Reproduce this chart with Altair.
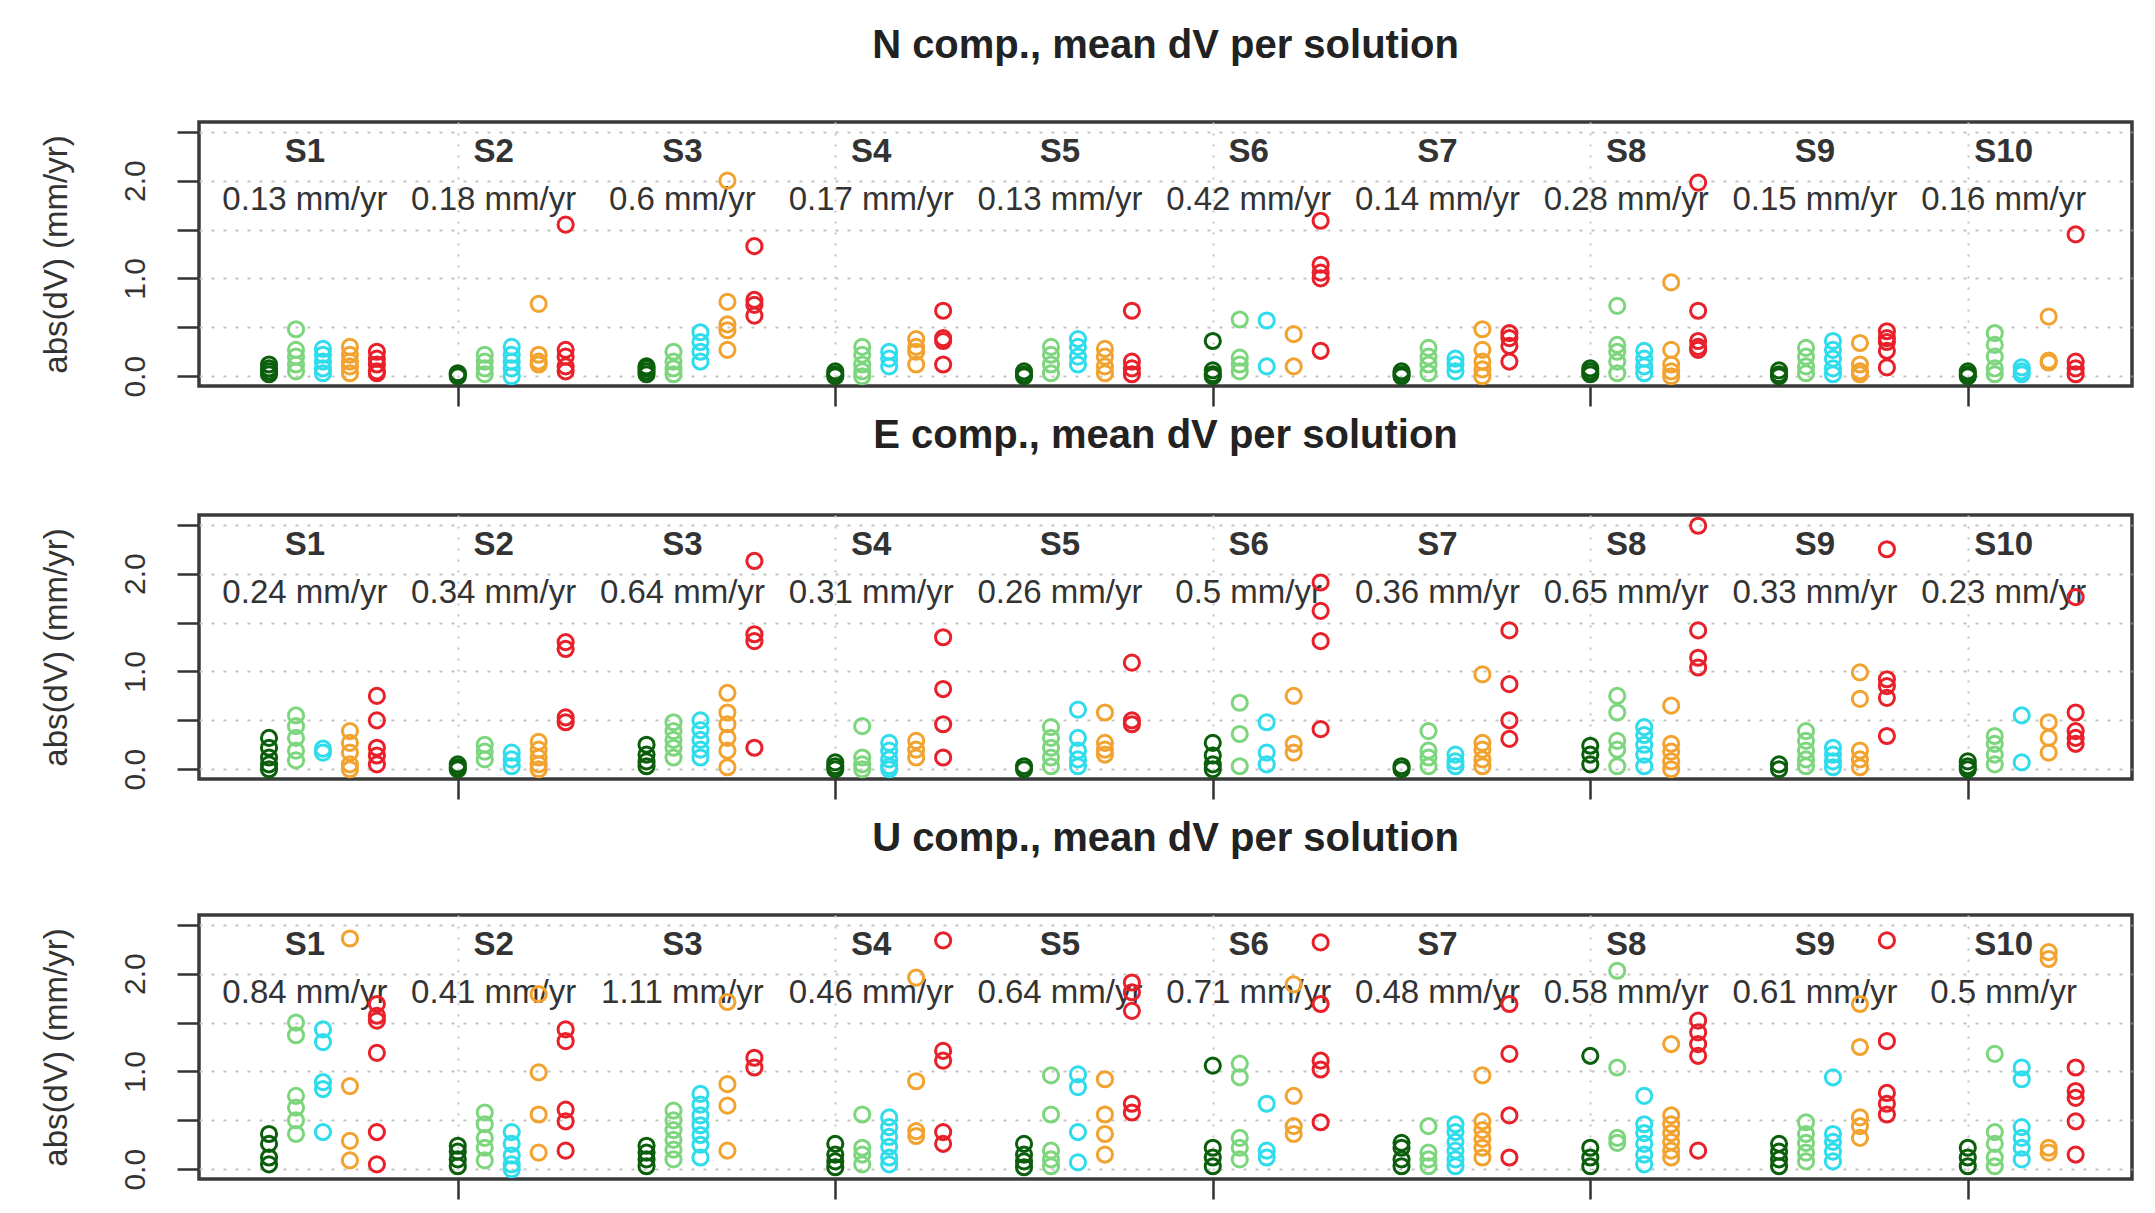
import altair as alt
import pandas as pd

solutions = ["S1", "S2", "S3", "S4", "S5", "S6", "S7", "S8", "S9", "S10"]
series = ["darkgreen", "lightgreen", "cyan", "orange", "red"]
series_colors = ["#0b5e0b", "#7dd67d", "#2fdcec", "#f2a22e", "#e8202a"]

# ---- N component: abs(dV) per solution, per series ----
N_darkgreen = [[0.02, 0.05, 0.08, 0.12], [0.0, 0.02, 0.03], [0.02, 0.05, 0.08, 0.1], [0.0, 0.02, 0.05], [0.0, 0.02, 0.05],
               [0.36, 0.06, 0.02, 0.0], [0.0, 0.02, 0.05], [0.02, 0.05, 0.08], [0.0, 0.02, 0.06], [0.0, 0.02, 0.05]]
N_lightgreen = [[0.48, 0.27, 0.2, 0.12, 0.05], [0.22, 0.15, 0.08, 0.02], [0.25, 0.15, 0.08, 0.02], [0.3, 0.22, 0.12, 0.05, 0.0],
                [0.3, 0.22, 0.12, 0.03], [0.58, 0.19, 0.12, 0.05], [0.29, 0.2, 0.12, 0.03], [0.72, 0.32, 0.25, 0.15, 0.03],
                [0.29, 0.2, 0.1, 0.03], [0.44, 0.32, 0.2, 0.08, 0.02]]
N_cyan = [[0.28, 0.22, 0.15, 0.08, 0.03], [0.3, 0.22, 0.15, 0.08, 0.0], [0.45, 0.35, 0.25, 0.15], [0.25, 0.18, 0.1],
          [0.38, 0.3, 0.2, 0.12], [0.57, 0.1], [0.18, 0.12, 0.05], [0.26, 0.18, 0.1, 0.03], [0.36, 0.27, 0.18, 0.08, 0.02],
          [0.09, 0.05, 0.02]]
N_orange = [[0.3, 0.22, 0.15, 0.1, 0.03], [0.74, 0.22, 0.15, 0.12], [2.0, 0.76, 0.53, 0.47, 0.27], [0.38, 0.3, 0.25, 0.12],
            [0.28, 0.2, 0.1, 0.03], [0.43, 0.1], [0.48, 0.27, 0.15, 0.07, 0.0], [0.96, 0.27, 0.12, 0.05, 0.0],
            [0.34, 0.12, 0.05, 0.02], [0.61, 0.16, 0.14]]
N_red = [[0.25, 0.18, 0.12, 0.05, 0.03], [1.55, 0.27, 0.2, 0.1, 0.05], [1.33, 0.78, 0.73, 0.62], [0.67, 0.39, 0.36, 0.12],
         [0.67, 0.15, 0.08, 0.02], [1.59, 1.14, 1.06, 1.0, 0.26], [0.44, 0.39, 0.31, 0.15], [1.98, 0.67, 0.36, 0.3, 0.27],
         [0.46, 0.39, 0.35, 0.26, 0.09], [1.45, 0.15, 0.08, 0.02]]
N_means = ["0.13", "0.18", "0.6", "0.17", "0.13", "0.42", "0.14", "0.28", "0.15", "0.16"]

# ---- E component ----
E_darkgreen = [[0.32, 0.22, 0.12, 0.05, 0.0], [0.05, 0.02, 0.0], [0.25, 0.15, 0.08, 0.03], [0.07, 0.03, 0.0], [0.03, 0.0],
               [0.27, 0.14, 0.05, 0.0], [0.03, 0.0], [0.24, 0.15, 0.05], [0.05, 0.0], [0.08, 0.03, 0.0]]
E_lightgreen = [[0.55, 0.44, 0.32, 0.19, 0.09], [0.25, 0.18, 0.1], [0.48, 0.39, 0.3, 0.22, 0.12], [0.44, 0.12, 0.05, 0.0],
                [0.43, 0.32, 0.22, 0.12, 0.03], [0.68, 0.36, 0.03], [0.39, 0.19, 0.12, 0.03], [0.75, 0.58, 0.29, 0.2, 0.03],
                [0.39, 0.29, 0.19, 0.1, 0.03], [0.34, 0.26, 0.15, 0.05]]
E_cyan = [[0.21, 0.17], [0.17, 0.1, 0.03], [0.5, 0.4, 0.3, 0.2, 0.12], [0.27, 0.19, 0.1, 0.03, 0.0], [0.61, 0.32, 0.19, 0.1, 0.03],
          [0.48, 0.17, 0.05], [0.15, 0.08, 0.03], [0.43, 0.35, 0.25, 0.15, 0.03], [0.22, 0.15, 0.08, 0.02], [0.55, 0.07]]
E_orange = [[0.39, 0.27, 0.17, 0.05, 0.0], [0.28, 0.2, 0.12, 0.05, 0.0], [0.78, 0.58, 0.46, 0.32, 0.19, 0.02], [0.29, 0.2, 0.12],
            [0.58, 0.27, 0.2, 0.15], [0.75, 0.26, 0.17], [0.97, 0.27, 0.2, 0.1, 0.03], [0.65, 0.26, 0.18, 0.08, 0.0],
            [0.99, 0.72, 0.19, 0.1, 0.02], [0.48, 0.32, 0.17]]
E_red = [[0.75, 0.5, 0.22, 0.14, 0.05], [1.3, 1.23, 0.53, 0.48], [2.13, 1.38, 1.31, 0.22], [1.35, 0.82, 0.46, 0.12],
         [1.09, 0.5, 0.46], [1.91, 1.62, 1.31, 0.41], [1.42, 0.87, 0.5, 0.31], [2.49, 1.42, 1.14, 1.04],
         [2.25, 0.92, 0.85, 0.73, 0.34], [1.76, 0.58, 0.39, 0.32, 0.26]]
E_means = ["0.24", "0.34", "0.64", "0.31", "0.26", "0.5", "0.36", "0.65", "0.33", "0.23"]

# ---- U component ----
U_darkgreen = [[0.36, 0.26, 0.12, 0.05], [0.24, 0.18, 0.1, 0.03], [0.24, 0.17, 0.1, 0.03], [0.26, 0.15, 0.08, 0.02],
               [0.26, 0.15, 0.08, 0.02], [1.06, 0.22, 0.12, 0.03], [0.27, 0.22, 0.1, 0.03], [1.16, 0.22, 0.12, 0.03],
               [0.26, 0.18, 0.1, 0.03], [0.22, 0.12, 0.03]]
U_lightgreen = [[1.5, 1.37, 0.75, 0.63, 0.5, 0.36], [0.58, 0.46, 0.32, 0.22, 0.09], [0.6, 0.5, 0.4, 0.3, 0.2, 0.1],
                [0.56, 0.22, 0.15, 0.05], [0.96, 0.56, 0.19, 0.1, 0.03], [1.08, 0.94, 0.32, 0.22, 0.1], [0.44, 0.17, 0.1, 0.03],
                [2.03, 1.04, 0.32, 0.27], [0.48, 0.36, 0.27, 0.17, 0.08], [1.18, 0.38, 0.26, 0.12, 0.03]]
U_cyan = [[1.43, 1.3, 0.89, 0.82, 0.38], [0.38, 0.26, 0.14, 0.05, 0.0], [0.77, 0.66, 0.55, 0.45, 0.35, 0.25, 0.12],
          [0.53, 0.43, 0.33, 0.23, 0.12, 0.05], [0.97, 0.84, 0.38, 0.07], [0.67, 0.19, 0.12], [0.46, 0.38, 0.28, 0.19, 0.1, 0.03],
          [0.75, 0.46, 0.37, 0.26, 0.15, 0.05], [0.94, 0.36, 0.28, 0.18, 0.08], [1.04, 0.92, 0.43, 0.32, 0.22, 0.1]]
U_orange = [[2.36, 0.85, 0.29, 0.09], [1.79, 0.99, 0.56, 0.17], [1.71, 0.87, 0.65, 0.19], [1.96, 0.9, 0.39, 0.34],
            [0.92, 0.56, 0.36, 0.15], [1.89, 0.75, 0.44, 0.36], [0.96, 0.49, 0.4, 0.31, 0.22, 0.12],
            [1.28, 0.55, 0.46, 0.37, 0.28, 0.19, 0.12], [1.69, 1.25, 0.53, 0.44, 0.32], [2.22, 2.15, 0.22, 0.17]]
U_red = [[1.69, 1.57, 1.52, 1.19, 0.38, 0.05], [1.43, 1.31, 0.61, 0.49, 0.19], [1.14, 1.04], [2.34, 1.21, 1.11, 0.38, 0.26],
         [1.91, 1.81, 1.62, 0.67, 0.58], [2.32, 1.69, 1.11, 1.02, 0.48], [1.69, 1.18, 0.55, 0.12], [1.52, 1.4, 1.28, 1.16, 0.19],
         [2.34, 1.31, 0.78, 0.67, 0.56], [1.04, 0.8, 0.73, 0.49, 0.15]]
U_means = ["0.84", "0.41", "1.11", "0.46", "0.64", "0.71", "0.48", "0.58", "0.61", "0.5"]

components = [
    ("N comp., mean dV per solution", [N_darkgreen, N_lightgreen, N_cyan, N_orange, N_red], N_means),
    ("E comp., mean dV per solution", [E_darkgreen, E_lightgreen, E_cyan, E_orange, E_red], E_means),
    ("U comp., mean dV per solution", [U_darkgreen, U_lightgreen, U_cyan, U_orange, U_red], U_means),
]

COL_STEP = 1.0 / 7.0      # spacing of the five series inside a solution group
LABEL_SHIFT = 0.19        # labels sit slightly right of each group's first column
FONT = "Liberation Sans, Arial, Helvetica, sans-serif"
TXT = "#333333"

x_scale = alt.Scale(domain=[0.629, 10.87], nice=False, zero=False)
y_scale = alt.Scale(domain=[-0.1, 2.6], nice=False, zero=False)

x_axis = alt.Axis(values=[2, 4, 6, 8, 10], labels=False, title=None, domain=False,
                  tickSize=20, tickWidth=2.5, tickColor=TXT,
                  grid=True, gridColor="#c4c4c4", gridDash=[2, 9], gridWidth=2)
y_axis = alt.Axis(values=[0, 0.5, 1, 1.5, 2, 2.5],
                  labelExpr="(datum.value == 0 || datum.value == 1 || datum.value == 2) ? format(datum.value, '.1f') : ''",
                  title="abs(dV) (mm/yr)", domain=False,
                  tickSize=22, tickWidth=2.5, tickColor=TXT,
                  labelAngle=270, labelAlign="center", labelBaseline="alphabetic",
                  labelPadding=33, labelFontSize=30, labelColor=TXT, labelFont=FONT,
                  titleFontSize=33, titleFontWeight="normal", titleColor=TXT, titleFont=FONT,
                  titlePadding=47,
                  grid=True, gridColor="#c4c4c4", gridDash=[3, 9], gridWidth=2)


def panel(title, series_lists, means):
    rows = []
    for j, (name, lists) in enumerate(zip(series, series_lists)):
        for k, vals in enumerate(lists):
            for v in vals:
                rows.append({"x": (k + 1) + j * COL_STEP, "v": v, "series": name})
    pts = pd.DataFrame(rows)
    lab = pd.DataFrame({
        "x": [k + 1 + LABEL_SHIFT for k in range(len(solutions))],
        "sol": solutions,
        "ysol": [2.29] * len(solutions),
        "mean": [m + " mm/yr" for m in means],
        "ymean": [1.80] * len(solutions),
    })
    X = alt.X("x:Q", scale=x_scale, axis=x_axis)
    sol_text = alt.Chart(lab).mark_text(font=FONT, fontSize=33, fontWeight="bold", color=TXT,
                                        baseline="middle", align="center").encode(
        x=X, y=alt.Y("ysol:Q", scale=y_scale, axis=y_axis), text="sol:N")
    mean_text = alt.Chart(lab).mark_text(font=FONT, fontSize=33, color=TXT,
                                         baseline="middle", align="center").encode(
        x=X, y=alt.Y("ymean:Q", scale=y_scale, axis=y_axis), text="mean:N")
    points = alt.Chart(pts).mark_point(shape="circle", filled=False, size=230, strokeWidth=3, opacity=1).encode(
        x=X,
        y=alt.Y("v:Q", scale=y_scale, axis=y_axis),
        color=alt.Color("series:N", scale=alt.Scale(domain=series, range=series_colors), legend=None),
    )
    return alt.layer(sol_text, mean_text, points).properties(
        width=1933, height=264,
        title=alt.TitleParams(title, fontSize=40, fontWeight="bold", font=FONT, color="#222222",
                              anchor="middle", frame="group", baseline="alphabetic", offset=24),
    )


p_n, p_e, p_u = [panel(t, s, m) for t, s, m in components]
chart = alt.vconcat(p_n, alt.vconcat(p_e, p_u, spacing=15), spacing=5).properties(
    padding={"left": 30, "top": 16, "right": 5, "bottom": 5}
).configure(
    background="white"
).configure_view(
    stroke="#3a3a3a", strokeWidth=3.5
)

chart.save("out.html", embed_options={"renderer": "svg", "actions": False})
